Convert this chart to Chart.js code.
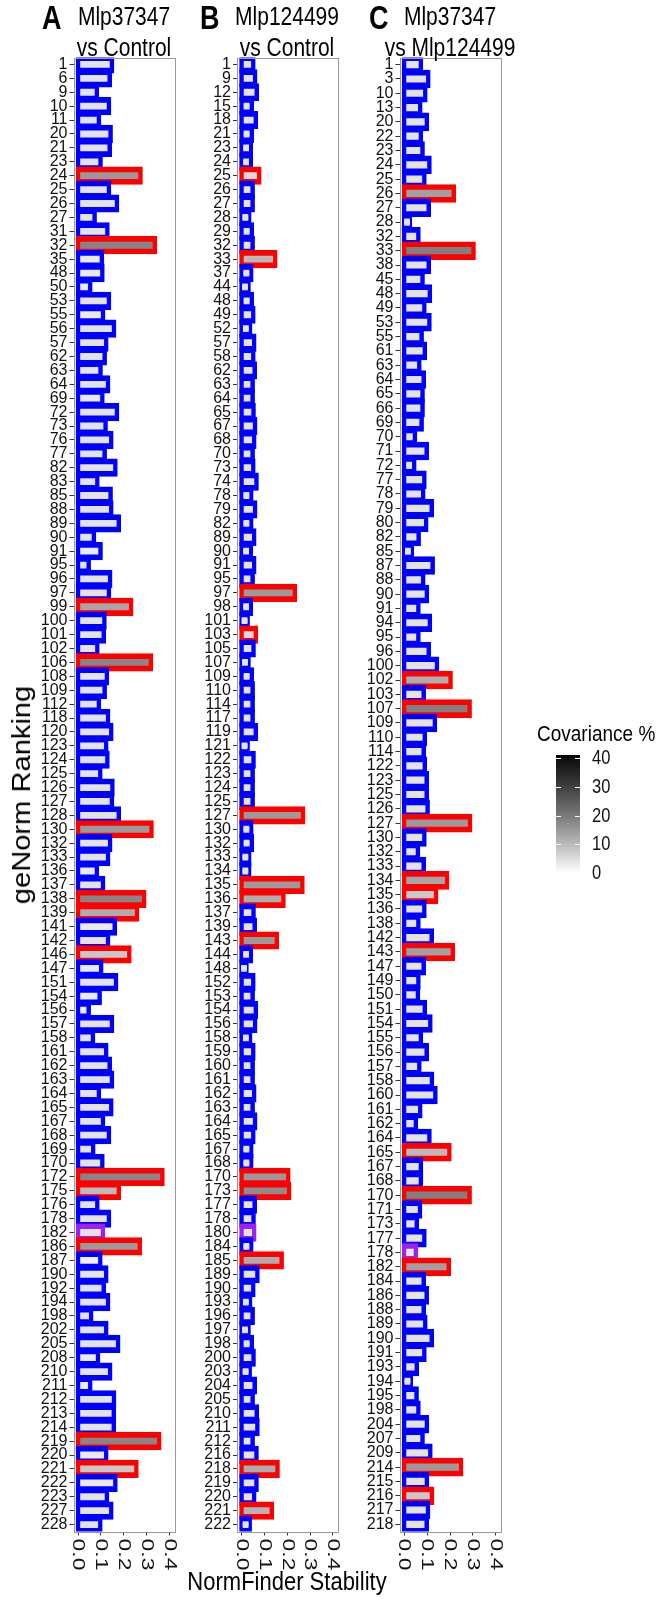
<!DOCTYPE html>
<html>
<head>
<meta charset="utf-8">
<script src="https://cdn.jsdelivr.net/npm/chart.js@4.4.1/dist/chart.umd.min.js"></script>
<style>
  body { margin: 0; width: 657px; height: 1599px; position: relative; background: #fff; overflow: hidden; font-family: 'Liberation Sans', Arial, sans-serif; color: #000; }
  canvas { position: absolute; top: 0; }
  .t { position: absolute; white-space: nowrap; line-height: 1; }
  .ttl { font-size: 21px; transform-origin: 50% 0; transform: translateX(-50%) scaleY(1.25); }
  .tag { font-size: 27px; font-weight: bold; transform-origin: 0 0; transform: scaleY(1.25); }
</style>
</head>
<body>
<canvas id="chartA" width="180" height="1599" style="left:0"></canvas>
<canvas id="chartB" width="160" height="1599" style="left:180px"></canvas>
<canvas id="chartC" width="317" height="1599" style="left:340px"></canvas>

<div class="t tag" style="left:42px; top:1px">A</div>
<div class="t ttl" style="left:124px; top:2px">Mlp37347</div>
<div class="t ttl" style="left:124px; top:33px">vs Control</div>
<div class="t tag" style="left:200px; top:1px">B</div>
<div class="t ttl" style="left:287px; top:2px">Mlp124499</div>
<div class="t ttl" style="left:287px; top:33px">vs Control</div>
<div class="t tag" style="left:369px; top:1px">C</div>
<div class="t ttl" style="left:450px; top:2px">Mlp37347</div>
<div class="t ttl" style="left:450px; top:33px">vs Mlp124499</div>

<div class="t" style="left:21px; top:795px; font-size:26px; transform: translate(-50%, -50%) rotate(-90deg) scaleX(1.12)">geNorm Ranking</div>
<div class="t" style="left:287px; top:1569px; font-size:22px; transform-origin: 50% 0; transform: translateX(-50%) scaleY(1.15)">NormFinder Stability</div>
<div class="t" style="left:537px; top:722px; font-size:19px; transform-origin: 0 0; transform: scaleY(1.2)">Covariance %</div>

<script>
// geNorm ranking labels per panel
const genesA = [1, 6, 9, 10, 11, 20, 21, 23, 24, 25, 26, 27, 31, 32, 35, 48, 50, 53, 55, 56,
  57, 62, 63, 64, 69, 72, 73, 76, 77, 82, 83, 85, 88, 89, 90, 91, 95, 96, 97, 99,
  100, 101, 102, 106, 108, 109, 112, 118, 120, 123, 124, 125, 126, 127, 128, 130, 132, 133, 136, 137,
  138, 139, 141, 142, 146, 147, 151, 154, 156, 157, 158, 161, 162, 163, 164, 165, 167, 168, 169, 170,
  172, 175, 176, 178, 182, 186, 187, 190, 192, 194, 198, 202, 205, 208, 210, 211, 212, 213, 214, 219,
  220, 221, 222, 223, 227, 228];
const genesB = [1, 9, 12, 15, 18, 21, 23, 24, 25, 26, 27, 28, 29, 32, 33, 37, 44, 48, 49, 52,
  57, 58, 62, 63, 64, 65, 67, 68, 70, 73, 74, 78, 79, 82, 89, 90, 91, 95, 97, 98,
  101, 103, 105, 107, 109, 110, 114, 117, 119, 121, 122, 123, 124, 125, 127, 130, 132, 133, 134, 135,
  136, 137, 139, 143, 144, 148, 152, 153, 154, 156, 158, 159, 160, 161, 162, 163, 164, 165, 167, 168,
  170, 173, 177, 178, 180, 184, 185, 189, 190, 193, 196, 197, 198, 200, 203, 204, 205, 210, 211, 212,
  216, 218, 219, 220, 221, 222];
const genesC = [1, 3, 10, 13, 20, 22, 23, 24, 25, 26, 27, 28, 32, 33, 38, 45, 48, 49, 53, 55,
  61, 63, 64, 65, 66, 69, 70, 71, 72, 77, 78, 79, 80, 82, 85, 87, 88, 90, 91, 94,
  95, 96, 100, 102, 103, 107, 109, 110, 114, 122, 123, 125, 126, 127, 130, 132, 133, 134, 135, 136,
  138, 142, 143, 147, 149, 150, 151, 154, 155, 156, 157, 158, 160, 161, 162, 164, 165, 167, 168, 170,
  171, 173, 177, 178, 182, 184, 186, 188, 189, 190, 191, 193, 194, 195, 198, 204, 207, 209, 214, 215,
  216, 217, 218];

// NormFinder stability values
const stabA = [0.146, 0.136, 0.080, 0.133, 0.089, 0.140, 0.136, 0.096, 0.271, 0.133, 0.168, 0.070, 0.126, 0.334, 0.102, 0.104, 0.051, 0.133, 0.107, 0.155,
  0.121, 0.114, 0.096, 0.129, 0.104, 0.168, 0.118, 0.143, 0.114, 0.161, 0.082, 0.140, 0.143, 0.176, 0.067, 0.096, 0.044, 0.138, 0.133, 0.230,
  0.113, 0.110, 0.082, 0.317, 0.124, 0.114, 0.089, 0.129, 0.143, 0.121, 0.126, 0.095, 0.148, 0.146, 0.176, 0.319, 0.138, 0.129, 0.080, 0.107,
  0.287, 0.256, 0.158, 0.129, 0.222, 0.099, 0.164, 0.092, 0.044, 0.146, 0.063, 0.121, 0.136, 0.146, 0.089, 0.143, 0.107, 0.133, 0.064, 0.104,
  0.367, 0.176, 0.082, 0.133, 0.107, 0.268, 0.095, 0.121, 0.110, 0.129, 0.055, 0.121, 0.173, 0.085, 0.138, 0.051, 0.155, 0.154, 0.154, 0.353,
  0.121, 0.253, 0.161, 0.124, 0.143, 0.095];
const stabB = [0.049, 0.057, 0.064, 0.042, 0.060, 0.042, 0.038, 0.038, 0.075, 0.046, 0.046, 0.031, 0.042, 0.046, 0.145, 0.040, 0.028, 0.042, 0.049, 0.035,
  0.053, 0.049, 0.055, 0.046, 0.046, 0.050, 0.057, 0.053, 0.046, 0.049, 0.063, 0.040, 0.057, 0.040, 0.053, 0.038, 0.053, 0.046, 0.231, 0.038,
  0.024, 0.060, 0.050, 0.028, 0.042, 0.046, 0.046, 0.046, 0.060, 0.024, 0.050, 0.046, 0.046, 0.046, 0.267, 0.040, 0.042, 0.031, 0.031, 0.264,
  0.181, 0.050, 0.055, 0.152, 0.038, 0.019, 0.049, 0.046, 0.060, 0.057, 0.035, 0.049, 0.046, 0.046, 0.053, 0.046, 0.057, 0.049, 0.040, 0.040,
  0.202, 0.206, 0.055, 0.050, 0.053, 0.040, 0.173, 0.067, 0.049, 0.035, 0.046, 0.028, 0.042, 0.050, 0.033, 0.055, 0.046, 0.064, 0.067, 0.046,
  0.063, 0.155, 0.063, 0.053, 0.130, 0.033];
const stabC = [0.071, 0.103, 0.090, 0.068, 0.097, 0.071, 0.078, 0.108, 0.086, 0.214, 0.105, 0.023, 0.060, 0.300, 0.105, 0.078, 0.110, 0.086, 0.108, 0.074,
  0.088, 0.064, 0.083, 0.078, 0.078, 0.074, 0.045, 0.096, 0.042, 0.086, 0.081, 0.118, 0.094, 0.061, 0.031, 0.122, 0.081, 0.097, 0.060, 0.110,
  0.060, 0.105, 0.141, 0.200, 0.083, 0.283, 0.132, 0.088, 0.083, 0.088, 0.096, 0.096, 0.100, 0.285, 0.086, 0.058, 0.083, 0.185, 0.137, 0.086,
  0.060, 0.118, 0.210, 0.083, 0.060, 0.058, 0.088, 0.112, 0.071, 0.096, 0.064, 0.119, 0.134, 0.068, 0.049, 0.108, 0.195, 0.071, 0.071, 0.283,
  0.067, 0.053, 0.086, 0.049, 0.192, 0.083, 0.096, 0.083, 0.090, 0.118, 0.086, 0.053, 0.027, 0.052, 0.060, 0.097, 0.078, 0.112, 0.246, 0.097,
  0.119, 0.102, 0.096];

// covariance % (fill shade)
const covA = [4, 4, 4, 4, 4, 4, 4, 4, 15, 4, 4, 4, 4, 18, 3, 3, 3, 4, 3, 4,
  4, 4, 4, 4, 3, 4, 4, 4, 4, 4, 4, 4, 4, 4, 4, 3, 4, 4, 4, 13,
  4, 4, 4, 18, 4, 4, 4, 4, 4, 4, 4, 4, 4, 4, 4, 15, 4, 4, 3, 4,
  18, 12, 3, 4, 8, 3, 4, 3, 3, 4, 4, 4, 4, 4, 4, 4, 4, 4, 4, 4,
  18, 10, 4, 4, 4, 15, 2, 4, 4, 4, 4, 4, 4, 3, 4, 3, 4, 4, 4, 18,
  3, 8, 3, 4, 4, 4];
const covB = [4, 4, 4, 4, 4, 4, 4, 4, 5, 4, 4, 4, 4, 4, 10, 4, 4, 4, 4, 4,
  4, 4, 4, 4, 4, 4, 4, 4, 4, 4, 4, 4, 4, 4, 4, 4, 4, 4, 15, 4,
  4, 5, 4, 4, 4, 4, 4, 4, 4, 4, 4, 4, 4, 4, 15, 4, 4, 4, 4, 15,
  12, 4, 4, 15, 4, 4, 4, 4, 4, 4, 4, 4, 4, 4, 4, 4, 4, 4, 4, 4,
  15, 17, 4, 4, 4, 4, 12, 4, 4, 4, 4, 4, 4, 4, 4, 4, 4, 4, 4, 4,
  4, 12, 4, 4, 11, 4];
const covC = [4, 4, 4, 4, 4, 4, 4, 4, 4, 14, 4, 4, 4, 19, 4, 4, 4, 4, 4, 4,
  4, 4, 4, 4, 4, 4, 4, 4, 4, 4, 4, 4, 4, 4, 4, 4, 4, 4, 4, 4,
  4, 4, 4, 12, 4, 19, 4, 4, 4, 4, 4, 4, 4, 15, 4, 4, 4, 13, 8, 4,
  4, 4, 14, 4, 4, 4, 4, 4, 4, 4, 4, 4, 4, 4, 4, 4, 10, 4, 4, 19,
  4, 4, 4, 3, 14, 4, 4, 4, 4, 4, 4, 4, 4, 4, 4, 4, 4, 4, 15, 4,
  8, 4, 4];

// outline groups
const redA = [24, 32, 99, 106, 130, 138, 139, 146, 172, 175, 186, 219, 221];
const purpleA = [182];
const redB = [25, 33, 97, 103, 127, 135, 136, 143, 170, 173, 185, 218, 221];
const purpleB = [180];
const redC = [26, 33, 102, 107, 127, 134, 135, 143, 165, 170, 182, 214, 216];
const purpleC = [178];

const xTicks = [0, 0.1, 0.2, 0.3, 0.4];
const legendTicks = [0, 10, 20, 30, 40];
const COV_MAX = 41;

const BLUE = '#0000ff', RED = '#ff0000', PURPLE = '#a020f0';
const TOP = 57.5, BOTTOM = 1531.5, XAXIS_H = 45;
const FONT = "'Liberation Sans', Arial, sans-serif";

Chart.defaults.font.family = FONT;

// white -> black in Lab lightness, like ggplot's gradient
function covColor(v) {
    const L = 100 * (1 - Math.max(0, Math.min(v, COV_MAX)) / COV_MAX);
    const Y = L > 8 ? Math.pow((L + 16) / 116, 3) : L / 903.3;
    const s = Y <= 0.0031308 ? 12.92 * Y : 1.055 * Math.pow(Y, 1 / 2.4) - 0.055;
    const g = Math.round(255 * Math.max(0, Math.min(1, s)));
    return `rgb(${g},${g},${g})`;
}

const framePlugin = {
    id: 'frame',
    afterDatasetsDraw(chart) {
        const { ctx, chartArea: a } = chart;
        ctx.save();
        ctx.strokeStyle = '#9a9a9a';
        ctx.lineWidth = 1;
        ctx.strokeRect(Math.round(a.left) + 0.5, Math.round(a.top) + 0.5,
            Math.round(a.right - a.left), Math.round(a.bottom - a.top));
        ctx.restore();
    }
};

// x tick labels read top to bottom
const xLabelPlugin = {
    id: 'xLabels',
    afterDraw(chart) {
        const { ctx, chartArea: a, scales: { x } } = chart;
        ctx.save();
        ctx.font = "17px " + FONT;
        ctx.fillStyle = '#111';
        ctx.textAlign = 'left';
        ctx.textBaseline = 'middle';
        xTicks.forEach(t => {
            ctx.save();
            ctx.translate(x.getPixelForValue(t), a.bottom + 7);
            ctx.rotate(Math.PI / 2);
            ctx.scale(1.35, 1);
            ctx.fillText(t.toFixed(1), 0, 0);
            ctx.restore();
        });
        ctx.restore();
    }
};

// colour bar legend, drawn on panel C's canvas
const legendPlugin = {
    id: 'covLegend',
    afterDraw(chart) {
        const ctx = chart.ctx;
        const offX = 340;
        const barL = 556 - offX, barW = 24;
        const zeroY = 873, pxPer = 2.875;
        const topY = zeroY - COV_MAX * pxPer;
        ctx.save();
        for (let y = Math.floor(topY); y < zeroY; y++) {
            const v = (zeroY - (y + 0.5)) / pxPer;
            ctx.fillStyle = covColor(v);
            ctx.fillRect(barL, y, barW, 1);
        }
        ctx.strokeStyle = '#fff';
        ctx.lineWidth = 1;
        ctx.font = "16.5px " + FONT;
        ctx.fillStyle = '#111';
        ctx.textBaseline = 'middle';
        legendTicks.forEach(t => {
            const y = Math.round(zeroY - t * pxPer) + 0.5;
            ctx.beginPath();
            ctx.moveTo(barL, y); ctx.lineTo(barL + 5, y);
            ctx.moveTo(barL + barW - 5, y); ctx.lineTo(barL + barW, y);
            ctx.stroke();
            ctx.save();
            ctx.translate(barL + barW + 12, y);
            ctx.scale(1, 1.2);
            ctx.fillText(String(t), 0, 0);
            ctx.restore();
        });
        ctx.restore();
    }
};

function makePanel(id, genes, stab, cov, red, purple, yAxisWidth, padRight, extra) {
    const borders = genes.map(g => purple.includes(g) ? PURPLE : (red.includes(g) ? RED : BLUE));
    const canvas = document.getElementById(id);
    return new Chart(canvas, {
        type: 'bar',
        data: {
            labels: genes.map(String),
            datasets: [{
                data: stab,
                backgroundColor: cov.map(covColor),
                borderColor: borders,
                borderWidth: { left: 4.5, right: 4.5, top: 5.7, bottom: 5.7 },
                borderSkipped: false,
                inflateAmount: 2.85,
                barPercentage: 0.9,
                categoryPercentage: 1,
                clip: { left: false, right: false, top: 0, bottom: 0 }
            }]
        },
        options: {
            indexAxis: 'y',
            responsive: false,
            animation: false,
            layout: { padding: { left: 0, right: padRight, top: TOP, bottom: canvas.height - BOTTOM - XAXIS_H } },
            plugins: { legend: { display: false }, tooltip: { enabled: false } },
            scales: {
                x: {
                    type: 'linear', min: -0.02, max: 0.42,
                    afterBuildTicks: s => { s.ticks = xTicks.map(v => ({ value: v })); },
                    afterFit: s => { s.height = XAXIS_H; },
                    grid: { drawOnChartArea: false, drawTicks: true, tickLength: 4, color: '#333' },
                    border: { display: false },
                    ticks: { display: false }
                },
                y: {
                    type: 'category', offset: true,
                    afterFit: s => { s.width = yAxisWidth; },
                    grid: { offset: false, drawOnChartArea: false, drawTicks: true, tickLength: 4, color: '#333' },
                    border: { display: false },
                    ticks: { autoSkip: false, font: { size: 16 }, color: '#111', padding: 2 }
                }
            }
        },
        plugins: [framePlugin, xLabelPlugin].concat(extra || [])
    });
}

makePanel('chartA', genesA, stabA, covA, redA, purpleA, 73.5, 6);
makePanel('chartB', genesB, stabB, covB, redB, purpleB, 57, 2.5);
makePanel('chartC', genesC, stabC, covC, redC, purpleC, 59.5, 156.5, [legendPlugin]);
</script>
</body>
</html>
